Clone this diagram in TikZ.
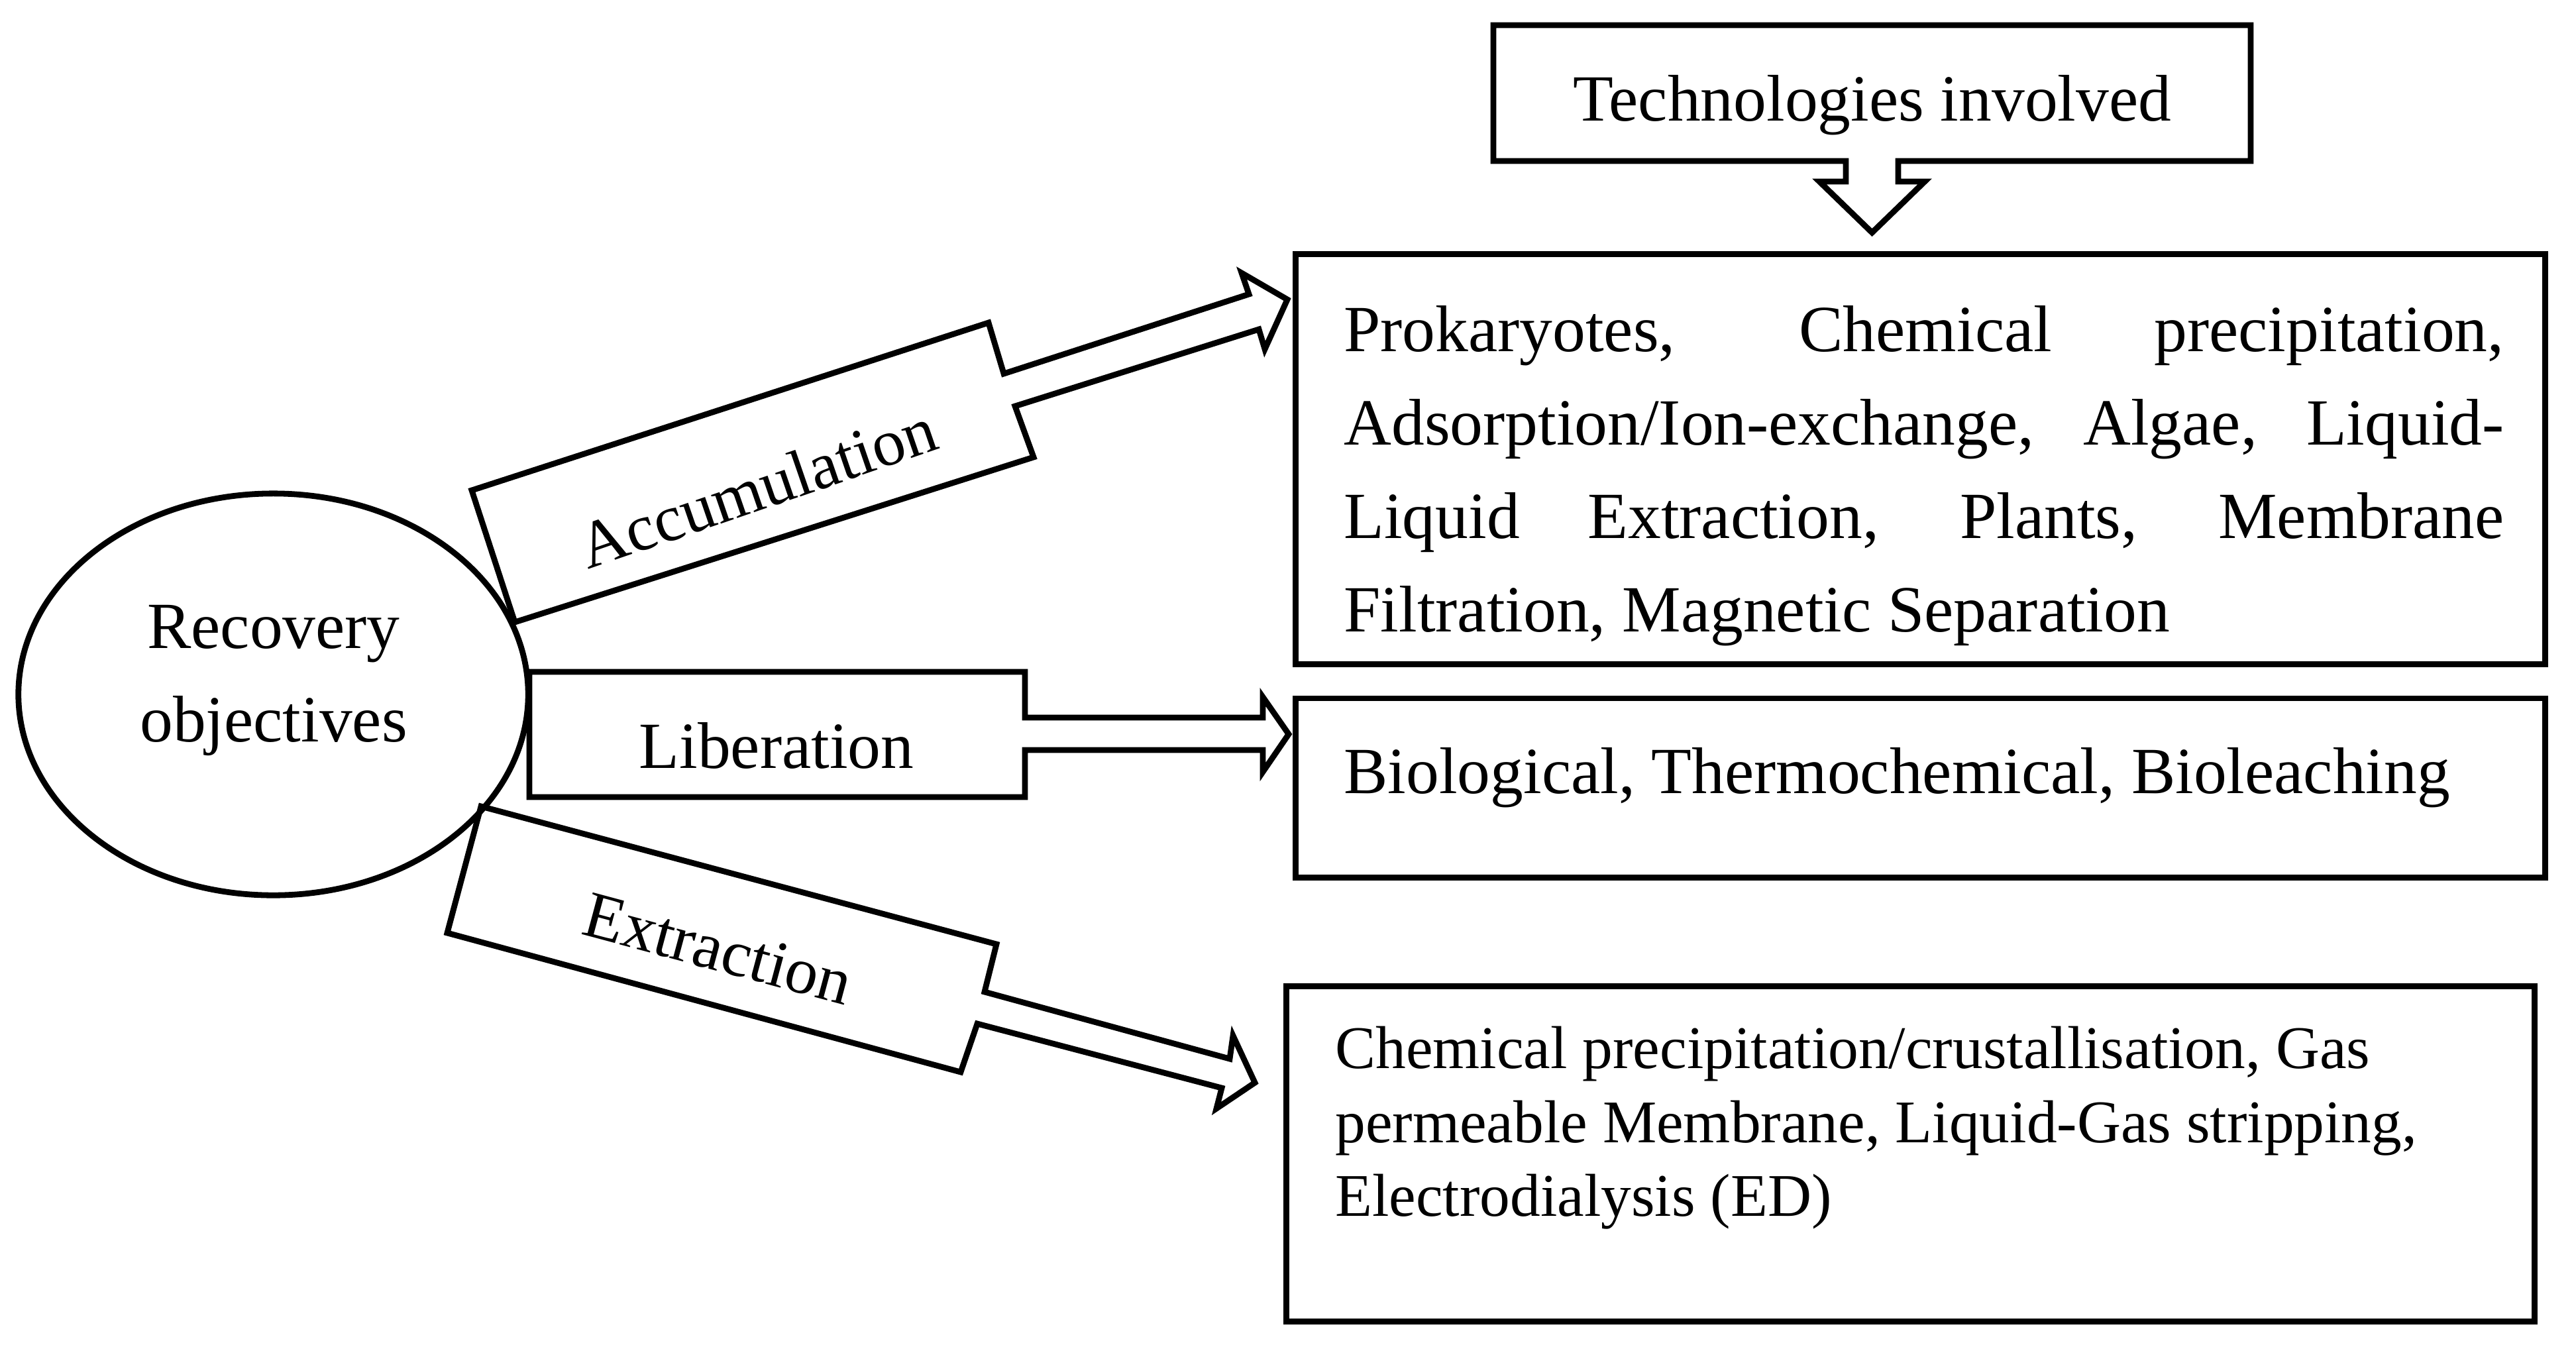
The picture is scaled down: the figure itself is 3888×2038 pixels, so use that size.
\documentclass[tikz,border=0pt]{standalone}
\usepackage{fontspec}
\setmainfont{Liberation Serif}
\usetikzlibrary{shapes.geometric}
\begin{document}
\begin{tikzpicture}[x=0.01cm,y=-0.01cm,line width=2.5pt,line join=miter,miter limit=10,
  txt/.style={inner sep=0pt,font=\fontsize{28.3}{34}\selectfont},
  txts/.style={inner sep=0pt,font=\fontsize{26}{31}\selectfont},
  boxframe/.style={draw,line width=2.5pt,inner sep=0pt}]
\useasboundingbox (0,0) rectangle (3888,2038);
\fill[white] (0,0) rectangle (3888,2038);

% Recovery objectives ellipse
\node[boxframe,ellipse,minimum width=7.69cm,minimum height=6.06cm] (ro) at (412.5,1048) {};
\node[txt,anchor=base] (ro1) at (413,978) {Recovery};
\node[txt,anchor=base] (ro2) at (413,1119) {objectives};

% Technologies involved callout
\draw (2254,38) -- (3397,38) -- (3397,243) -- (2865,243) -- (2865,274) -- (2905,274)
  -- (2825.5,351) -- (2746,274) -- (2786,274) -- (2786,243) -- (2254,243) -- cycle;
\node[txt,anchor=base] (tech) at (2826,182) {Technologies involved};

% Boxes
\node[boxframe,minimum width=18.85cm,minimum height=6.18cm] (b1) at (2898.5,693) {};
\node[boxframe,minimum width=18.85cm,minimum height=2.70cm] (b2) at (2898.5,1189) {};
\node[boxframe,minimum width=18.83cm,minimum height=5.05cm] (b3) at (2883.5,1741.5) {};

% Box 1 text (justified)
\node[txt,anchor=base west] (t11) at (2024,530) {\makebox[17.5cm][s]{Prokaryotes, Chemical precipitation,}};
\node[txt,anchor=base west] (t12) at (2024,671) {\makebox[17.5cm][s]{Adsorption/Ion-exchange, Algae, Liquid-}};
\node[txt,anchor=base west] (t13) at (2024,812) {\makebox[17.5cm][s]{Liquid Extraction, Plants, Membrane}};
\node[txt,anchor=base west] (t14) at (2024,953) {Filtration, Magnetic Separation};

% Box 2 text
\node[txt,anchor=base west] (t21) at (2024,1197) {Biological, Thermochemical, Bioleaching};

% Box 3 text
\node[txts,anchor=base west] (t31) at (2011,1612) {Chemical precipitation/crustallisation, Gas};
\node[txts,anchor=base west] (t32) at (2011,1724) {permeable Membrane, Liquid-Gas stripping,};
\node[txts,anchor=base west] (t33) at (2011,1835) {Electrodialysis (ED)};

% Accumulation block arrow
\draw (777,939) -- (712,740) -- (1492,487) -- (1515,564) -- (1885,444) -- (1874,412)
  -- (1943,452) -- (1909,527) -- (1900,497) -- (1532,613) -- (1560,690) -- cycle;
\node[txt,rotate=19] (acc) at (1143,736) {Accumulation};

% Liberation block arrow
\draw (799,1014) -- (1547,1014) -- (1547,1083) -- (1906,1083) -- (1906,1052) -- (1945,1108)
  -- (1906,1165) -- (1906,1132) -- (1547,1132) -- (1547,1203) -- (799,1203) -- cycle;
\node[txt,anchor=base] (lib) at (1172,1159) {Liberation};

% Extraction block arrow
\draw (726,1217) -- (1504,1425) -- (1486,1497) -- (1856,1598) -- (1861,1563) -- (1894,1634)
  -- (1836,1673) -- (1844,1642) -- (1475,1545) -- (1450,1618) -- (675,1408) -- cycle;
\node[txt,rotate=-15] (ext) at (1084,1432) {Extraction};
\end{tikzpicture}
\end{document}
